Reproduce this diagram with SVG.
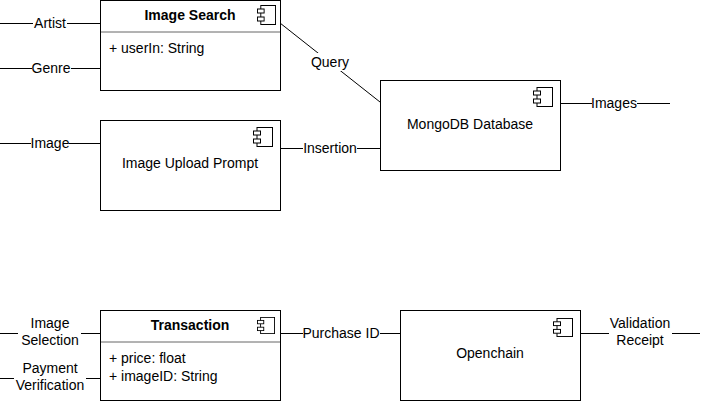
<svg xmlns="http://www.w3.org/2000/svg" xmlns:xlink="http://www.w3.org/1999/xlink" width="702" height="401" viewBox="0 0 702 401">
<style>
text{font-family:"Liberation Sans",Arial,sans-serif;font-size:14px;fill:#000}
.c{text-anchor:middle}
.b{font-weight:bold}
.box{fill:#fff;stroke:#000;stroke-width:1}
.sep{stroke:#666;stroke-width:1}
.ln{stroke:#000;stroke-width:1;fill:none}
.bg{fill:#fff}
</style>
<defs>
<symbol id="comp" viewBox="0 0 20 20" preserveAspectRatio="none">
<rect x="4" y="0.5" width="15.5" height="19" fill="#fff" stroke="#000" stroke-width="1"/>
<rect x="0.5" y="4" width="7" height="4" fill="#fff" stroke="#000" stroke-width="1"/>
<rect x="0.5" y="12" width="7" height="4" fill="#fff" stroke="#000" stroke-width="1"/>
</symbol>
</defs>
<g id="connectors">
<line class="ln" x1="0" y1="23.5" x2="100" y2="23.5"/>
<rect class="bg" x="33" y="15" width="34" height="16"/>
<text class="c" x="50" y="28">Artist</text>
<line class="ln" x1="0" y1="68.5" x2="100" y2="68.5"/>
<rect class="bg" x="32" y="60" width="39" height="16"/>
<text class="c" x="51" y="73">Genre</text>
<line class="ln" x1="0" y1="143.5" x2="100" y2="143.5"/>
<rect class="bg" x="31" y="135" width="38" height="16"/>
<text class="c" x="50" y="148">Image</text>
<line class="ln" x1="280" y1="23" x2="380" y2="102"/>
<rect class="bg" x="310" y="53" width="41" height="18"/>
<text class="c" x="330" y="67">Query</text>
<line class="ln" x1="280" y1="148.5" x2="380" y2="148.5"/>
<rect class="bg" x="303" y="140" width="54" height="16"/>
<text class="c" x="330" y="153">Insertion</text>
<line class="ln" x1="560" y1="103.5" x2="670" y2="103.5"/>
<rect class="bg" x="592" y="95" width="45" height="16"/>
<text class="c" x="614" y="108">Images</text>
<line class="ln" x1="0" y1="333.5" x2="100" y2="333.5"/>
<rect class="bg" x="18" y="315" width="63" height="34"/>
<text class="c" x="50" y="328">Image</text>
<text class="c" x="50" y="345">Selection</text>
<line class="ln" x1="0" y1="378.5" x2="100" y2="378.5"/>
<rect class="bg" x="14" y="360" width="72" height="34"/>
<text class="c" x="50" y="373">Payment</text>
<text class="c" x="50" y="390">Verification</text>
<line class="ln" x1="280" y1="333.5" x2="400" y2="333.5"/>
<rect class="bg" x="303" y="325" width="77" height="16"/>
<text class="c" x="341" y="338">Purchase ID</text>
<line class="ln" x1="580" y1="333.5" x2="700" y2="333.5"/>
<rect class="bg" x="609" y="315" width="63" height="34"/>
<text class="c" x="640" y="328">Validation</text>
<text class="c" x="640" y="345">Receipt</text>
</g>
<g id="image-search">
<rect class="box" x="100.5" y="0.5" width="180" height="90"/>
<line class="sep" x1="101" y1="32" x2="280" y2="32"/>
<text class="c b" x="190" y="20">Image Search</text>
<use xlink:href="#comp" x="257" y="5" width="19" height="20"/>
<text x="109" y="53">+ userIn: String</text>
</g>
<g id="image-upload-prompt">
<rect class="box" x="100.5" y="120.5" width="180" height="90"/>
<use xlink:href="#comp" x="253" y="127" width="20" height="20"/>
<text class="c" x="190" y="168">Image Upload Prompt</text>
</g>
<g id="mongodb-database">
<rect class="box" x="380.5" y="80.5" width="180" height="90"/>
<use xlink:href="#comp" x="533" y="87" width="20" height="20"/>
<text class="c" x="470" y="129">MongoDB Database</text>
</g>
<g id="transaction">
<rect class="box" x="100.5" y="310.5" width="180" height="90"/>
<line class="sep" x1="101" y1="342" x2="280" y2="342"/>
<text class="c b" x="190" y="330">Transaction</text>
<use xlink:href="#comp" x="257" y="317" width="18" height="17"/>
<text x="109" y="363">+ price: float</text>
<text x="109" y="381">+ imageID: String</text>
</g>
<g id="openchain">
<rect class="box" x="400.5" y="310.5" width="180" height="90"/>
<use xlink:href="#comp" x="553" y="318" width="20" height="19"/>
<text class="c" x="490" y="358">Openchain</text>
</g>
</svg>
